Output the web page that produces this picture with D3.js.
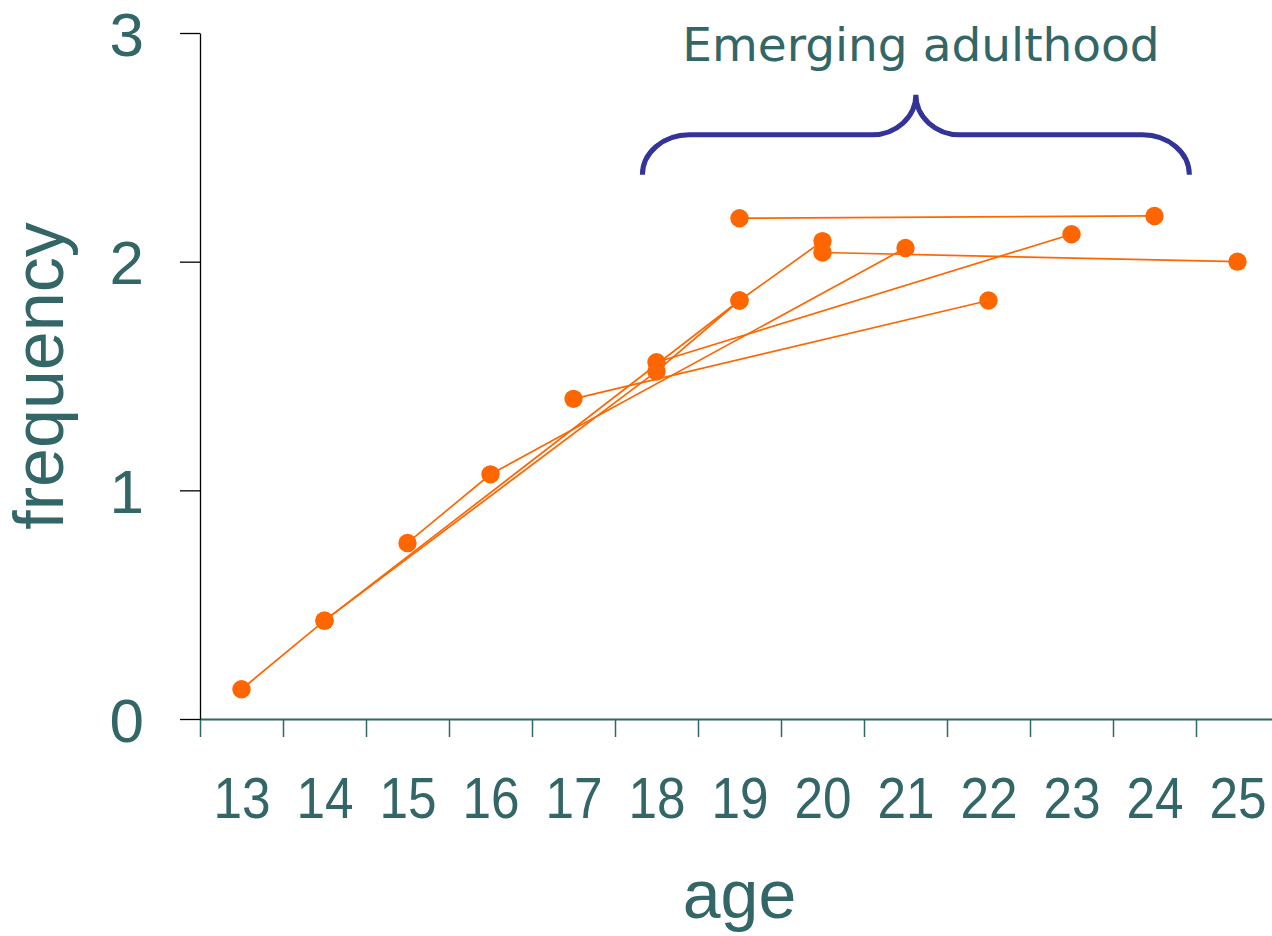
<!DOCTYPE html>
<html>
<head>
<meta charset="utf-8">
<script src="https://cdn.jsdelivr.net/npm/d3@7"></script>
<style>
  html, body { margin: 0; padding: 0; background: #ffffff; }
  svg { display: block; }
</style>
</head>
<body>
<svg id="chart" width="1272" height="936"></svg>
<script>
// ---- data ----
const ageLabels = ["13","14","15","16","17","18","19","20","21","22","23","24","25"];
const yTicks = [0, 1, 2, 3];

const s1Ages = [13, 14, 18, 19, 20];
const s1Vals = [0.13, 0.43, 1.52, 1.83, 2.09];
const s2Ages = [14, 19];
const s2Vals = [0.43, 1.83];
const s3Ages = [15, 16, 21];
const s3Vals = [0.77, 1.07, 2.06];
const s4Ages = [17, 22];
const s4Vals = [1.40, 1.83];
const s5Ages = [18, 23];
const s5Vals = [1.56, 2.12];
const s6Ages = [19, 24];
const s6Vals = [2.19, 2.20];
const s7Ages = [20, 25];
const s7Vals = [2.04, 2.00];

const annotationText = "Emerging adulthood";
const braceFromAge = 17.83, braceToAge = 24.42;
const braceLow = 2.38, braceMid = 2.555, braceTop = 2.73;

// ---- layout ----
const teal = "#336666";
const orange = "#FF6600";
const braceColor = "#333399";

const svg = d3.select("#chart");
const x = d3.scaleLinear().domain([12.5, 25.5]).range([200, 1279]);
const y = d3.scaleLinear().domain([0, 3]).range([719, 33]);

// x axis: boundary ticks
const xAxisTicks = d3.range(12.5, 25, 1);
const gx = svg.append("g").attr("transform", `translate(0,${y(0)})`)
  .call(d3.axisBottom(x).tickValues(xAxisTicks).tickFormat("").tickSize(18).tickSizeOuter(0));
gx.select(".domain").attr("stroke", teal).attr("stroke-width", 2.2);
gx.selectAll(".tick line").attr("stroke", teal).attr("stroke-width", 1.5);

// x labels
const gxl = svg.append("g").attr("transform", `translate(0,${y(0)})`)
  .call(d3.axisBottom(x).tickValues(ageLabels.map(Number)).tickFormat(d3.format("d")).tickSize(0).tickPadding(99));
gxl.select(".domain").remove();
gxl.selectAll(".tick text")
  .attr("fill", teal)
  .attr("font-family", "'Liberation Sans', Arial, sans-serif")
  .attr("font-size", 57)
  .attr("dy", "0")
  .attr("transform", "scale(0.9,1)");

// y axis
const gy = svg.append("g").attr("transform", `translate(${x(12.5)},0)`)
  .call(d3.axisLeft(y).tickValues(yTicks).tickFormat(d3.format("d")).tickSize(20).tickPadding(36).tickSizeOuter(0));
gy.select(".domain").attr("stroke", "#000").attr("stroke-width", 1.3);
gy.selectAll(".tick line").attr("stroke", "#000").attr("stroke-width", 1.3);
gy.selectAll(".tick text")
  .attr("fill", teal)
  .attr("font-family", "'Liberation Sans', Arial, sans-serif")
  .attr("font-size", 62)
  .attr("dy", "0.36em");

// axis titles
svg.append("text")
  .attr("x", x(19))
  .attr("y", 918)
  .attr("text-anchor", "middle")
  .attr("fill", teal)
  .attr("font-family", "'Liberation Sans', Arial, sans-serif")
  .attr("font-size", 68)
  .text("age");

svg.append("text")
  .attr("transform", `translate(63,${y(1.5)}) rotate(-90)`)
  .attr("text-anchor", "middle")
  .attr("fill", teal)
  .attr("font-family", "'Liberation Sans', Arial, sans-serif")
  .attr("font-size", 70)
  .text("frequency");

// series
const series = [
  [s1Ages, s1Vals], [s2Ages, s2Vals], [s3Ages, s3Vals], [s4Ages, s4Vals],
  [s5Ages, s5Vals], [s6Ages, s6Vals], [s7Ages, s7Vals]
].map(([a, v]) => a.map((age, i) => ({ age, value: v[i] })));

const line = d3.line().x(d => x(d.age)).y(d => y(d.value));

svg.append("g").selectAll("path").data(series).join("path")
  .attr("d", line)
  .attr("fill", "none")
  .attr("stroke", orange)
  .attr("stroke-width", 1.7);

svg.append("g").selectAll("circle").data(series.flat()).join("circle")
  .attr("cx", d => x(d.age))
  .attr("cy", d => y(d.value))
  .attr("r", 9.2)
  .attr("fill", orange);

// brace annotation
const bl = x(braceFromAge), br = x(braceToAge), bm = (bl + br) / 2;
const yLow = y(braceLow), yMid = y(braceMid), yTop = y(braceTop);
const rx = 47, ry = yLow - yMid;
const rx2 = 44, ry2 = yMid - yTop;
const bracePath = [
  `M${bl},${yLow}`,
  `A${rx},${ry} 0 0 1 ${bl + rx},${yMid}`,
  `L${bm - rx2},${yMid}`,
  `A${rx2},${ry2} 0 0 0 ${bm},${yTop}`,
  `A${rx2},${ry2} 0 0 0 ${bm + rx2},${yMid}`,
  `L${br - rx},${yMid}`,
  `A${rx},${ry} 0 0 1 ${br},${yLow}`
].join(" ");
svg.append("path")
  .attr("d", bracePath)
  .attr("fill", "none")
  .attr("stroke", braceColor)
  .attr("stroke-width", 5);

svg.append("text")
  .attr("x", 921)
  .attr("y", 61)
  .attr("text-anchor", "middle")
  .attr("fill", teal)
  .attr("font-family", "'DejaVu Sans', Verdana, sans-serif")
  .attr("font-size", 47)
  .text(annotationText);
</script>
</body>
</html>
